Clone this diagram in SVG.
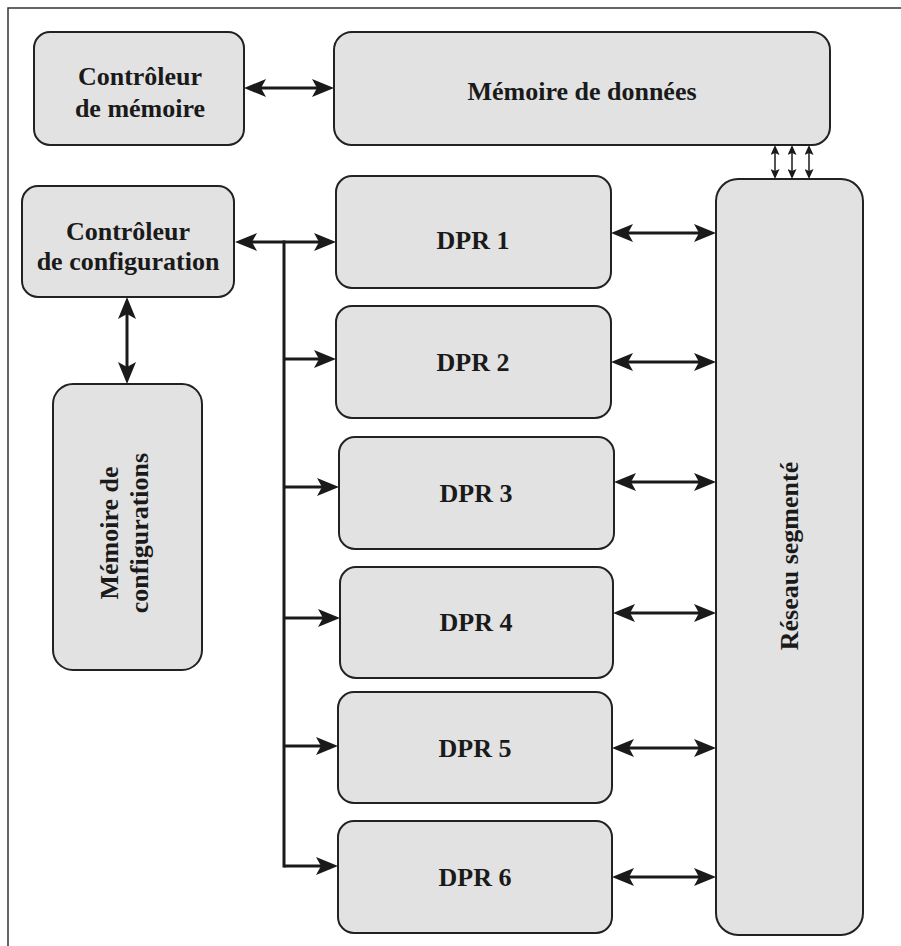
<svg xmlns="http://www.w3.org/2000/svg" width="901" height="946" viewBox="0 0 901 946">
<style>
.box{fill:#e2e2e2;stroke:#222;stroke-width:2}
.lbl{font-family:"Liberation Serif","Times New Roman",serif;font-weight:bold;font-size:26px;fill:#1a1a1a;text-anchor:middle}
.c{stroke:#1a1a1a;stroke-width:3;fill:none}
.s{stroke:#1a1a1a;stroke-width:1.5;fill:none}
</style>
<defs>
<marker id="ah" viewBox="0 0 22 18" refX="12" refY="9" markerWidth="22" markerHeight="18" markerUnits="userSpaceOnUse" orient="auto-start-reverse">
<path d="M0,0 L22,9 L0,18 L5,9 Z" fill="#1a1a1a"/>
</marker>
<marker id="sah" viewBox="0 0 10 9" refX="6" refY="4.5" markerWidth="10" markerHeight="9" markerUnits="userSpaceOnUse" orient="auto-start-reverse">
<path d="M0,0 L10,4.5 L0,9 L2,4.5 Z" fill="#1a1a1a"/>
</marker>
</defs>
<rect width="901" height="946" fill="#fff"/>
<g id="frame">
<path d="M8,946 V8 H901" fill="none" stroke="#333" stroke-width="1.5"/>
</g>
<g id="connectors">
<line class="c" x1="254" y1="88" x2="324" y2="88" marker-start="url(#ah)" marker-end="url(#ah)"/>
<line class="c" x1="245" y1="242" x2="326" y2="242" marker-start="url(#ah)" marker-end="url(#ah)"/>
<line class="c" x1="284" y1="240.5" x2="284" y2="867.5"/>
<line class="c" x1="284" y1="359" x2="326" y2="359" marker-end="url(#ah)"/>
<line class="c" x1="284" y1="487" x2="329" y2="487" marker-end="url(#ah)"/>
<line class="c" x1="284" y1="618" x2="330" y2="618" marker-end="url(#ah)"/>
<line class="c" x1="284" y1="746" x2="328" y2="746" marker-end="url(#ah)"/>
<line class="c" x1="284" y1="866" x2="328" y2="866" marker-end="url(#ah)"/>
<line class="c" x1="127" y1="307" x2="127" y2="374" marker-start="url(#ah)" marker-end="url(#ah)"/>
<line class="c" x1="621" y1="233" x2="706" y2="233" marker-start="url(#ah)" marker-end="url(#ah)"/>
<line class="c" x1="621" y1="362" x2="706" y2="362" marker-start="url(#ah)" marker-end="url(#ah)"/>
<line class="c" x1="624" y1="482" x2="706" y2="482" marker-start="url(#ah)" marker-end="url(#ah)"/>
<line class="c" x1="623" y1="613" x2="706" y2="613" marker-start="url(#ah)" marker-end="url(#ah)"/>
<line class="c" x1="622" y1="748" x2="706" y2="748" marker-start="url(#ah)" marker-end="url(#ah)"/>
<line class="c" x1="622" y1="877" x2="706" y2="877" marker-start="url(#ah)" marker-end="url(#ah)"/>
<line class="s" x1="775" y1="149" x2="775" y2="175" marker-start="url(#sah)" marker-end="url(#sah)"/>
<line class="s" x1="792" y1="149" x2="792" y2="175" marker-start="url(#sah)" marker-end="url(#sah)"/>
<line class="s" x1="809" y1="149" x2="809" y2="175" marker-start="url(#sah)" marker-end="url(#sah)"/>
</g>
<g id="ctrl-mem">
<rect class="box" x="34" y="32" width="210" height="113" rx="16"/>
<text class="lbl" x="140" y="85">Contrôleur</text>
<text class="lbl" x="140" y="117">de mémoire</text>
</g>
<g id="mem-donnees">
<rect class="box" x="334" y="32" width="496" height="113" rx="18"/>
<text class="lbl" x="582" y="100">Mémoire de données</text>
</g>
<g id="ctrl-config">
<rect class="box" x="22" y="186" width="212" height="111" rx="16"/>
<text class="lbl" x="128" y="240">Contrôleur</text>
<text class="lbl" x="128" y="270">de configuration</text>
</g>
<g id="mem-config">
<rect class="box" x="53" y="384" width="149" height="286" rx="20"/>
<text class="lbl" transform="translate(118,533) rotate(-90)">Mémoire de</text>
<text class="lbl" transform="translate(148,533) rotate(-90)">configurations</text>
</g>
<g id="dpr1">
<rect class="box" x="336" y="176" width="275" height="112" rx="16"/>
<text class="lbl" x="473" y="249">DPR 1</text>
</g>
<g id="dpr2">
<rect class="box" x="336" y="306" width="275" height="112" rx="16"/>
<text class="lbl" x="473" y="371">DPR 2</text>
</g>
<g id="dpr3">
<rect class="box" x="339" y="437" width="275" height="112" rx="16"/>
<text class="lbl" x="476" y="502">DPR 3</text>
</g>
<g id="dpr4">
<rect class="box" x="340" y="567" width="273" height="111" rx="16"/>
<text class="lbl" x="476" y="631">DPR 4</text>
</g>
<g id="dpr5">
<rect class="box" x="338" y="692" width="274" height="111" rx="16"/>
<text class="lbl" x="475" y="757">DPR 5</text>
</g>
<g id="dpr6">
<rect class="box" x="338" y="821" width="274" height="112" rx="16"/>
<text class="lbl" x="475" y="886">DPR 6</text>
</g>
<g id="reseau">
<rect class="box" x="716" y="179" width="147" height="756" rx="22"/>
<text class="lbl" transform="translate(798,556) rotate(-90)">Réseau segmenté</text>
</g>
</svg>
